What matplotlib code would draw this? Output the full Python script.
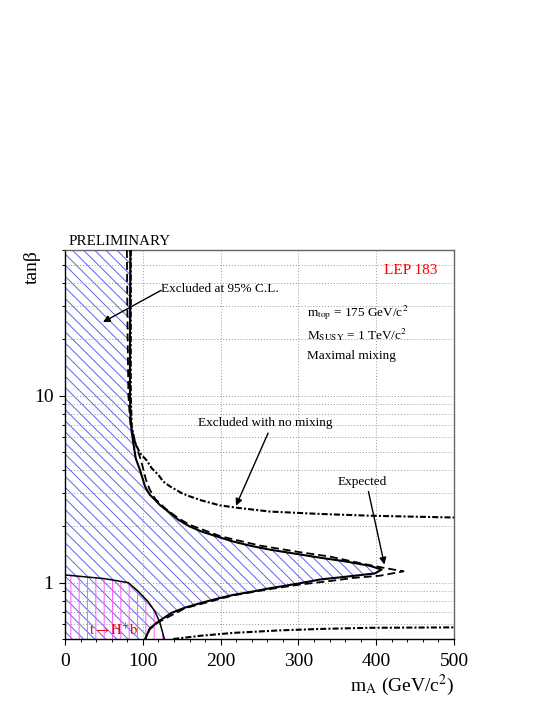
import numpy as np
import matplotlib
matplotlib.use('Agg')
import matplotlib.pyplot as plt
from matplotlib.ticker import FixedLocator, LogLocator, NullFormatter, FixedFormatter, MultipleLocator

plt.rcParams['font.family'] = ['Liberation Serif', 'DejaVu Serif']
plt.rcParams['mathtext.fontset'] = 'stix'
plt.rcParams['hatch.linewidth'] = 0.7

# 95% C.L. observed exclusion (maximal mixing)
obs_x = [84, 83.5, 83.5, 84, 85.5, 88, 91, 96.4, 102.8, 109, 115.7, 122, 132.8, 145.6,
         160, 175, 200, 216, 240, 264, 300, 328, 360, 392, 407,
         398, 360, 328, 300, 264, 240, 216, 200, 175, 154, 137, 120, 109, 103]
obs_y = [60, 20, 10, 8, 6.5, 5.5, 4.6, 4.0, 3.27, 2.95, 2.77, 2.6, 2.40, 2.17,
         2.0, 1.88, 1.74, 1.66, 1.57, 1.50, 1.42, 1.36, 1.30, 1.23, 1.175,
         1.12, 1.075, 1.04, 0.99, 0.935, 0.895, 0.86, 0.83, 0.78, 0.735, 0.69, 0.62, 0.57, 0.5]

# expected exclusion
exp_x = [79.5, 80.5, 81.5, 84, 92, 98, 104, 109, 116, 130, 145, 160, 200, 250, 300, 340, 380, 410, 435,
         405, 370, 340, 300, 264, 216, 154, 120, 109, 103]
exp_y = [60, 20, 10, 7, 5.3, 4.45, 3.55, 3.14, 2.8, 2.47, 2.22, 2.04, 1.77, 1.58, 1.46, 1.38, 1.27, 1.2, 1.15,
         1.09, 1.06, 1.02, 0.975, 0.925, 0.855, 0.73, 0.615, 0.565, 0.5]

# excluded with no mixing (upper and lower branches)
nomix_x = [84.5, 84.5, 84.5, 85.7, 90, 96.4, 105, 111.4, 120, 126.3, 135, 150, 160.7, 175.7, 199, 222.8,
           263, 328, 392, 500]
nomix_y = [60, 20, 10, 6.84, 5.6, 4.92, 4.5, 4.09, 3.77, 3.47, 3.27, 3.01, 2.89, 2.75, 2.59, 2.51,
           2.40, 2.33, 2.28, 2.23]
nomix_lo_x = [139, 173.5, 216, 276, 328, 392, 500]
nomix_lo_y = [0.5, 0.52, 0.539, 0.556, 0.566, 0.574, 0.577]

# t -> H+ b excluded region
top_x = [0, 51.4, 81.4, 94, 107, 115.7, 122, 127.7]
top_y = [1.10, 1.05, 1.0, 0.90, 0.79, 0.70, 0.61, 0.5]

fig = plt.figure(figsize=(5.45, 7.05), dpi=100)
ax = fig.add_axes([0.1193, 0.0936, 0.7138, 0.5518])
ax.set_yscale('log')
ax.set_xlim(0, 500)
ax.set_ylim(0.5, 60)

# hatched areas
ax.fill([0] + obs_x + [0], [60] + obs_y + [0.5], facecolor='none', edgecolor='#6262f0',
        hatch='\\\\\\', linewidth=0, zorder=1)
ax.fill([0] + top_x, [0.5] + top_y, facecolor='none', edgecolor='#ff5cff',
        hatch='||', linewidth=0, zorder=1)

dashdot = (0, (2.9, 1.0, 1.0, 1.0))
ax.plot(obs_x, obs_y, color='black', lw=1.5, zorder=4)
ax.plot(exp_x, exp_y, color='black', lw=1.3, ls=(0, (4.4, 2.2)), zorder=3)
ax.plot(nomix_x, nomix_y, color='black', lw=1.5, ls=dashdot, zorder=3)
ax.plot(nomix_lo_x, nomix_lo_y, color='black', lw=1.5, ls=dashdot, zorder=3)
ax.plot(top_x, top_y, color='black', lw=1.1, zorder=4)

# axes and grid
ax.xaxis.set_major_locator(MultipleLocator(100))
ax.xaxis.set_minor_locator(MultipleLocator(20))
ax.yaxis.set_major_locator(FixedLocator([1, 10]))
ax.yaxis.set_major_formatter(FixedFormatter(['1', '10']))
ax.yaxis.set_minor_locator(LogLocator(subs=np.arange(2, 10)))
ax.yaxis.set_minor_formatter(NullFormatter())
ax.grid(which='major', axis='x', color='#999999', ls=(0, (1, 2)), lw=0.7)
ax.grid(which='both', axis='y', color='#999999', ls=(0, (1, 2)), lw=0.7)

ax.tick_params(which='major', direction='out', length=4.3, width=0.8, labelsize=14)
ax.tick_params(which='minor', direction='out', length=2.2, width=0.7)
ax.tick_params(axis='x', which='major', pad=6)
ax.tick_params(axis='y', which='major', pad=4)
ax.tick_params(top=False, right=False)
for s in ['top', 'right']:
    ax.spines[s].set_color('#666666')
for s in ax.spines.values():
    s.set_linewidth(1.0)

ax.set_xlabel(r'm$_\mathrm{A}$ (GeV/c$^2$)', fontsize=14, loc='right')
ax.xaxis.set_label_coords(1.0, -0.118)
ax.xaxis.label.set_va('center')
ax.set_ylabel('tanβ', fontsize=14, loc='top')
ax.yaxis.set_label_coords(-0.085, 1.0)
ax.yaxis.label.set_va('center')

# texts
ax.text(0.008, 1.012, 'PRELIMINARY', transform=ax.transAxes, fontsize=10.8, va='baseline')
ax.text(478, 46.4, 'LEP 183', color='red', fontsize=11, ha='right', va='center')
ax.text(310.6, 27.9, r'm$_\mathrm{top}$ = 175 GeV/c$^2$', fontsize=9.5, va='center')
ax.text(310.6, 21.3, r'M$_\mathrm{SUSY}$ = 1 TeV/c$^2$', fontsize=9.5, va='center')
ax.text(310.6, 16.3, 'Maximal mixing', fontsize=9.5, va='center')
ax.text(31, 0.554, r'$\mathrm{t \rightarrow H^{+}b}$', color='red', fontsize=10.5, va='center', zorder=5)

arrow = dict(arrowstyle='-|>', color='black', lw=1.0, mutation_scale=10, shrinkA=0, shrinkB=0)
ax.text(123.4, 37.2, 'Excluded at 95% C.L.', fontsize=9.5, va='center')
ax.annotate('', xy=(48.8, 24.7), xytext=(123.4, 36.5), arrowprops=arrow)
ax.text(257, 7.1, 'Excluded with no mixing', fontsize=9.5, ha='center', va='center')
ax.annotate('', xy=(219.8, 2.58), xytext=(261, 6.3), arrowprops=arrow)
ax.text(381.7, 3.47, 'Expected', fontsize=9.5, ha='center', va='center')
ax.annotate('', xy=(410.5, 1.25), xytext=(390, 3.07), arrowprops=arrow)

fig.savefig('out.png', dpi=100)
